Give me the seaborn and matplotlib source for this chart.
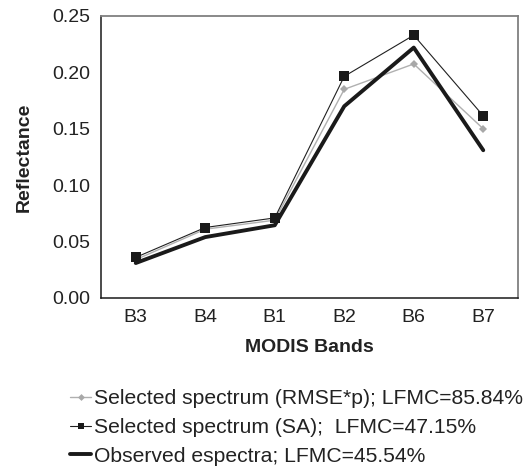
import matplotlib
matplotlib.use("Agg")
import matplotlib.pyplot as plt
import seaborn as sns
import pandas as pd
import numpy as np
from matplotlib.lines import Line2D

bands = ["B3", "B4", "B1", "B2", "B6", "B7"]
rmse_p = [0.034, 0.061, 0.069, 0.185, 0.2075, 0.150]
sa = [0.036, 0.0625, 0.071, 0.1965, 0.233, 0.1615]
observed = [0.031, 0.054, 0.0645, 0.170, 0.222, 0.131]
labels = ["Selected spectrum (RMSE*p); LFMC=85.84%",
          "Selected spectrum (SA);  LFMC=47.15%",
          "Observed espectra; LFMC=45.54%"]

sns.set_style("white")
plt.rcParams["font.family"] = ["Liberation Sans", "DejaVu Sans"]

fig = plt.figure(figsize=(5.23, 4.72), dpi=100)
ax = fig.add_axes([101/523, 1-298/472, (518-101)/523, (298-16)/472])

df_r = pd.DataFrame({"band": bands, "val": rmse_p})
df_s = pd.DataFrame({"band": bands, "val": sa})
df_o = pd.DataFrame({"band": bands, "val": observed})

sns.lineplot(data=df_r, x="band", y="val", ax=ax, color="#b0b0b0", lw=1.0,
             marker="D", markersize=4.5, markeredgewidth=0, markerfacecolor="#a8a8a8", sort=False)
sns.lineplot(data=df_s, x="band", y="val", ax=ax, color="#202020", lw=0.8,
             marker="s", markersize=7, markeredgewidth=0, markerfacecolor="#1a1a1a", sort=False)
sns.lineplot(data=df_o, x="band", y="val", ax=ax, color="#1a1a1a", lw=2.8, sort=False)

ax.set_xlim(-0.5, 5.5)
ax.set_ylim(0, 0.25)
ax.set_yticks(np.arange(0, 0.251, 0.05))
ax.set_yticklabels([f"{v:.2f}" for v in np.arange(0, 0.251, 0.05)])
ax.set_xticks(range(len(bands)))
ax.set_xticklabels(bands)
ax.set_xticks(np.arange(-0.5, 5.6, 1), minor=True)
ax.tick_params(axis="x", which="major", length=0, labelsize=14, pad=8, colors="#222222")
ax.tick_params(axis="x", which="minor", length=5, width=1, direction="out", color="#333333")
ax.tick_params(axis="y", which="major", length=5, width=1, direction="out", labelsize=14,
               pad=3, colors="#222222")
for s in ["left", "bottom"]:
    ax.spines[s].set_color("#1a1a1a")
    ax.spines[s].set_linewidth(1.1)
for s in ["top", "right"]:
    ax.spines[s].set_color("#808080")
    ax.spines[s].set_linewidth(1.3)

ax.set_xlabel("MODIS Bands", fontsize=14, fontweight="bold", labelpad=9, color="#222222")
ax.set_ylabel("Reflectance", fontsize=14, fontweight="bold", labelpad=14, color="#222222")

handles = [
    Line2D([], [], color="#b0b0b0", lw=1.0, marker="D", markersize=3.5, markeredgewidth=0,
           markerfacecolor="#a8a8a8"),
    Line2D([], [], color="#202020", lw=0.8, marker="s", markersize=4.5, markeredgewidth=0,
           markerfacecolor="#1a1a1a"),
    Line2D([], [], color="#1a1a1a", lw=2.8),
]
fig.legend(handles, labels, loc="upper left", bbox_to_anchor=(70/523, 1-389/472),
           frameon=False, fontsize=15.2, handlelength=1.0, handletextpad=0.15,
           labelspacing=0.47, borderpad=0, borderaxespad=0, labelcolor="#222222")

fig.savefig("out.png", dpi=100)
